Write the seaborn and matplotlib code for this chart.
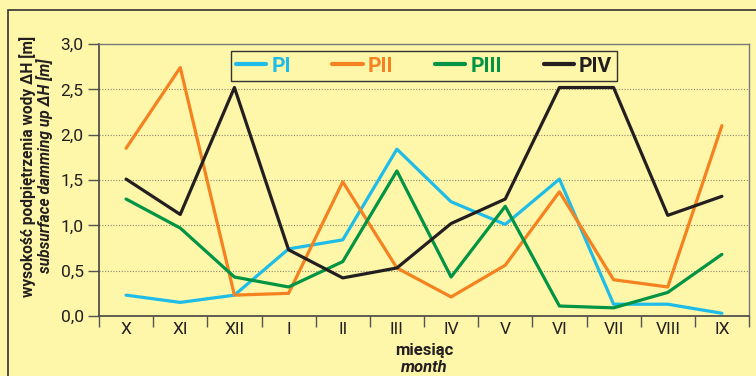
import matplotlib
matplotlib.use("Agg")
import matplotlib.pyplot as plt
from matplotlib.patches import Rectangle
from matplotlib.ticker import FixedLocator
import pandas as pd
import seaborn as sns

months = ["X", "XI", "XII", "I", "II", "III", "IV", "V", "VI", "VII", "VIII", "IX"]
y_ticks = [0.0, 0.5, 1.0, 1.5, 2.0, 2.5, 3.0]
y_tick_labels = ["0,0", "0,5", "1,0", "1,5", "2,0", "2,5", "3,0"]

pi = [0.23, 0.15, 0.23, 0.74, 0.84, 1.84, 1.26, 1.01, 1.51, 0.13, 0.13, 0.03]
pii = [1.85, 2.74, 0.23, 0.25, 1.48, 0.53, 0.21, 0.56, 1.37, 0.40, 0.32, 2.10]
piii = [1.29, 0.97, 0.43, 0.32, 0.60, 1.60, 0.43, 1.21, 0.11, 0.09, 0.26, 0.68]
piv = [1.51, 1.12, 2.52, 0.73, 0.42, 0.53, 1.02, 1.29, 2.52, 2.52, 1.11, 1.32]

series_names = ["PI", "PII", "PIII", "PIV"]
palette = {"PI": "#1ebce8", "PII": "#f58220", "PIII": "#009444", "PIV": "#231f20"}

BG = "#fef6a8"
INK = "#231f20"

rows = []
for name, values in zip(series_names, [pi, pii, piii, piv]):
    for i, v in enumerate(values):
        rows.append({"pos": i, "month": months[i], "value": v, "series": name})
df = pd.DataFrame(rows)

sns.set_theme(style="white")
plt.rcParams["font.family"] = ["Liberation Sans Narrow", "Roboto", "DejaVu Sans"]

fig = plt.figure(figsize=(7.56, 3.76), dpi=100, facecolor=BG)
ax = fig.add_axes([99 / 756, 1 - 316 / 376, 650 / 756, 272 / 376])
ax.set_facecolor(BG)

sns.lineplot(
    data=df, x="pos", y="value", hue="series", hue_order=series_names,
    palette=palette, linewidth=2.3, sort=False, ax=ax, legend=True,
)

ax.set_xlim(-0.5, len(months) - 0.5)
ax.set_ylim(0, 3.0)
ax.set_yticks(y_ticks)
ax.set_yticklabels(y_tick_labels, fontsize=12.5, color=INK)
ax.set_xticks(range(len(months)))
ax.set_xticklabels(months, fontsize=12.5, color=INK)
ax.xaxis.set_minor_locator(FixedLocator([i - 0.5 for i in range(len(months) + 1)]))
ax.tick_params(axis="x", which="major", length=0, pad=4)
ax.tick_params(axis="x", which="minor", length=8, width=1, color="#555555", direction="out", bottom=True)
ax.tick_params(axis="y", which="major", length=8, width=1, color="#555555", direction="out", left=True, pad=3)

for y in y_ticks[1:-1]:
    ax.axhline(y, color="#8a8a70", linestyle=(0, (1, 1.5)), linewidth=0.8, zorder=0)

for side in ["left", "bottom"]:
    ax.spines[side].set_color("#444444")
    ax.spines[side].set_linewidth(1.2)
for side in ["top", "right"]:
    ax.spines[side].set_color("#777777")
    ax.spines[side].set_linewidth(1.0)

ax.set_xlabel("")
ax.set_ylabel("")
ax.text(0.5, -0.125, "miesiąc", transform=ax.transAxes, ha="center", va="center",
        fontsize=12, fontweight="bold", color=INK)
ax.text(0.5, -0.19, "month", transform=ax.transAxes, ha="center", va="center",
        fontsize=12, fontweight="bold", fontstyle="italic", color=INK)
fig.text(28 / 756, 1 - 166 / 376, "wysokość podpiętrzenia wody ΔH [m]", rotation=90,
         ha="center", va="center", fontsize=11.2, fontweight="bold", color=INK)
fig.text(45 / 756, 1 - 166 / 376, "subsurface damming up ΔH [m]", rotation=90,
         ha="center", va="center", fontsize=11.2, fontweight="bold", fontstyle="italic", color=INK)

leg = ax.legend(
    loc="upper center", bbox_to_anchor=(0.5, 0.973), ncol=4, frameon=True,
    fancybox=False, edgecolor="#333333", facecolor=BG, framealpha=1,
    prop={"weight": "bold", "size": 15}, labelcolor="linecolor",
    handlelength=1.45, handletextpad=0.25, columnspacing=2.0, borderpad=0.25,
    borderaxespad=0.0,
)
leg.get_frame().set_linewidth(1.0)
for line in leg.get_lines():
    line.set_linewidth(3)

fig.add_artist(Rectangle((8 / 756, -0.1), 1.2, 1.1 - 10 / 376, transform=fig.transFigure,
                         fill=False, edgecolor="#333333", linewidth=1.2, clip_on=False))

fig.savefig("out.png", dpi=100, facecolor=BG)
